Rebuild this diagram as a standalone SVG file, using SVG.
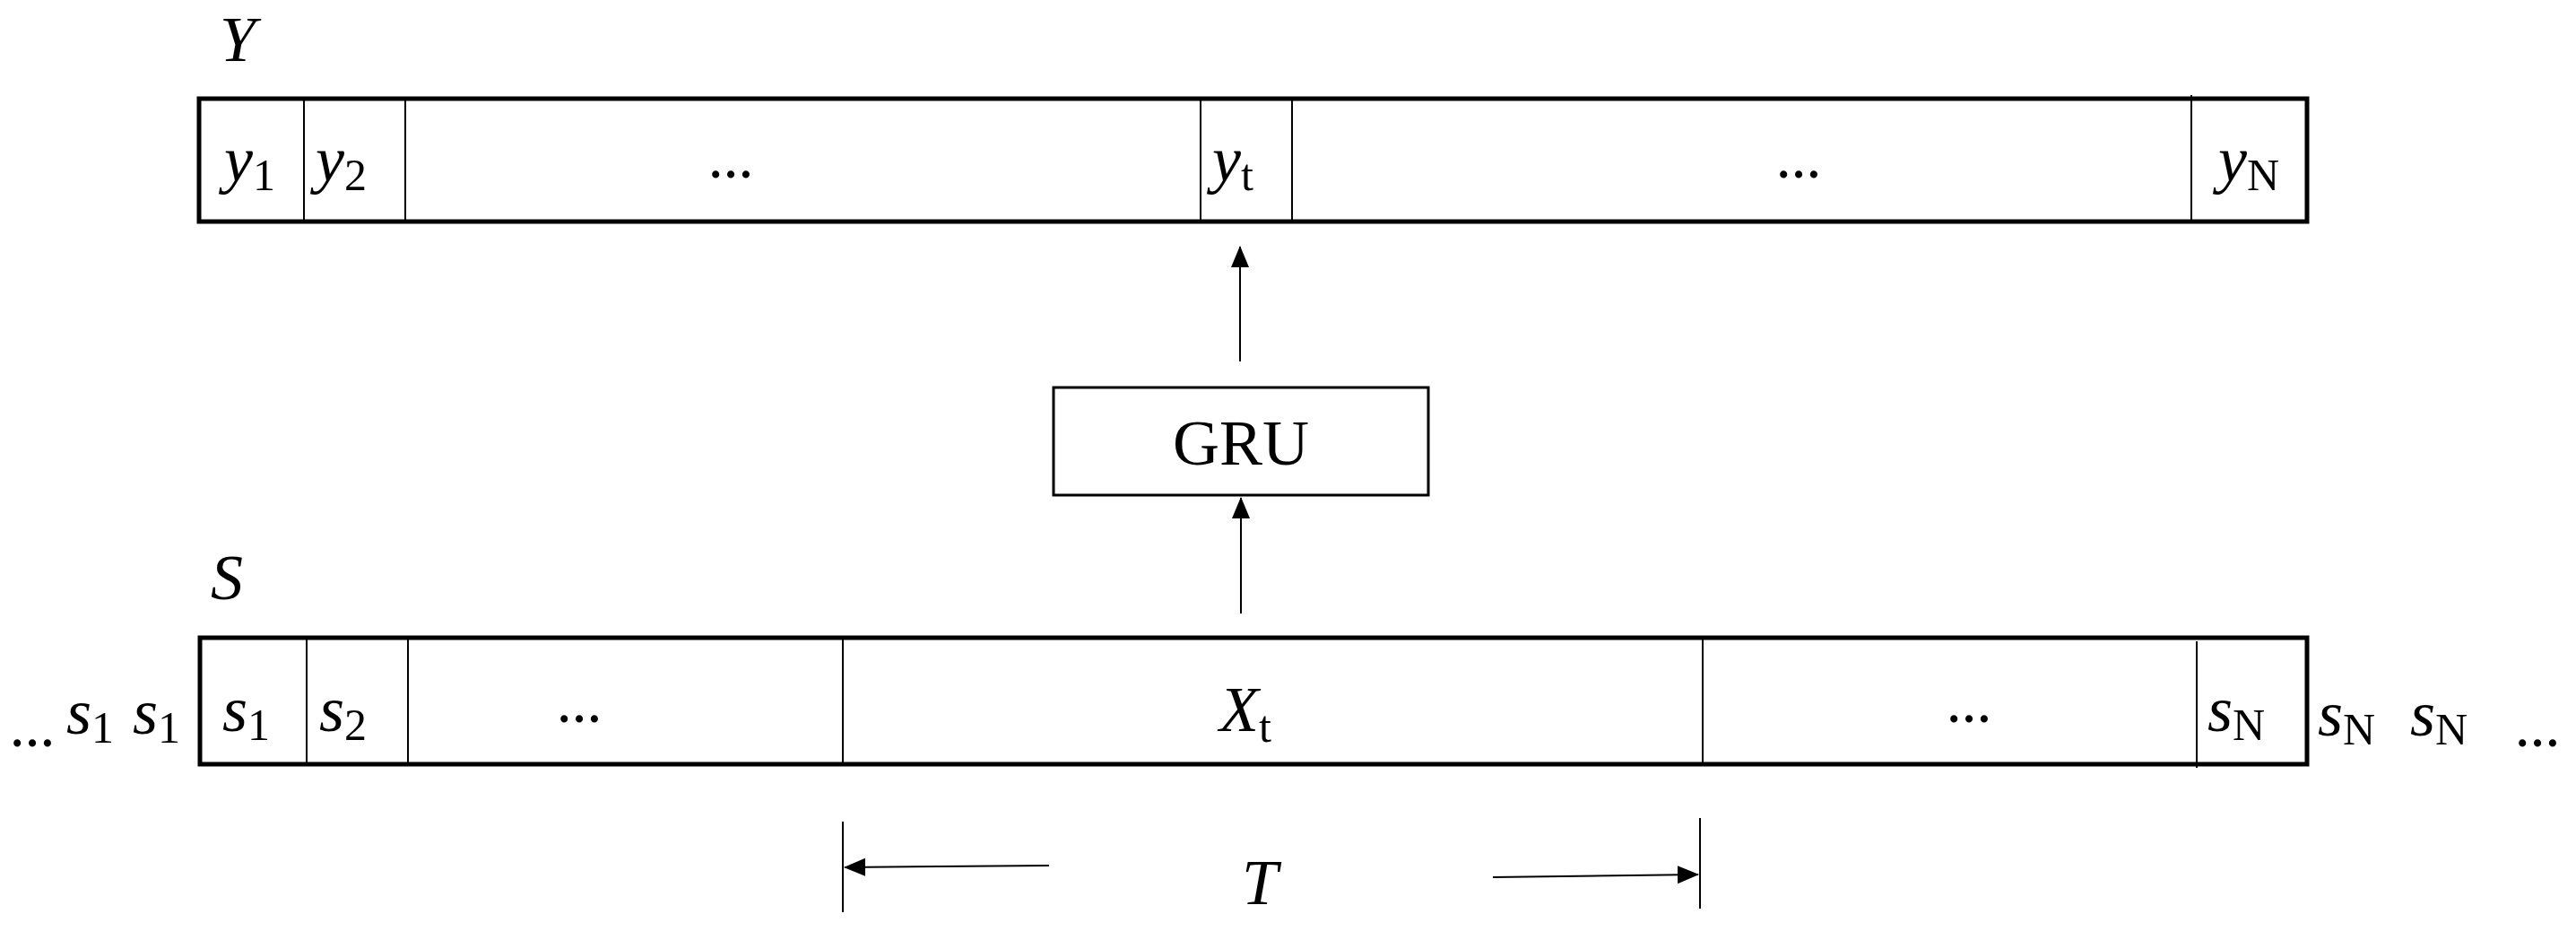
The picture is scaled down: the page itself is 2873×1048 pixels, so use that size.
<svg xmlns="http://www.w3.org/2000/svg" width="2873" height="1048" viewBox="0 0 2873 1048">
<style>
.box{fill:#fff;stroke:#000;stroke-width:5}
.div{stroke:#000;stroke-width:2}
.ln{stroke:#000;stroke-width:2;fill:none}
.m{font-family:"Liberation Serif",serif;font-style:italic;font-size:72px;fill:#000}
.sub{font-style:normal;font-size:50px}
.d{font-family:"Liberation Serif",serif;font-size:50px;font-weight:bold;fill:#000;text-anchor:middle}
.g{font-family:"Liberation Serif",serif;font-size:72px;fill:#000;text-anchor:middle}
</style>
<defs>
<marker id="ahb" viewBox="0 0 24 24" refX="23" refY="12" markerWidth="24" markerHeight="24" orient="auto" markerUnits="userSpaceOnUse"><path d="M0,2 L24,12 L0,22 z" fill="#000"/></marker>
</defs>
<g id="Y">
<text class="m" x="245" y="68">Y</text>
<rect class="box" x="222" y="110" width="2351" height="137"/>
<line class="div" x1="339" y1="110" x2="339" y2="247"/>
<line class="div" x1="452" y1="110" x2="452" y2="247"/>
<line class="div" x1="1339" y1="110" x2="1339" y2="247"/>
<line class="div" x1="1441" y1="110" x2="1441" y2="247"/>
<line class="div" x1="2444" y1="106" x2="2444" y2="247"/>
<text class="m" x="250" y="202">y<tspan class="sub" dy="10">1</tspan></text>
<text class="m" x="352" y="202">y<tspan class="sub" dy="10">2</tspan></text>
<text class="d" x="815" y="198">…</text>
<text class="m" x="1352" y="202">y<tspan class="sub" dy="10">t</tspan></text>
<text class="d" x="2006" y="198">…</text>
<text class="m" x="2474" y="202">y<tspan class="sub" dy="10">N</tspan></text>
</g>
<g id="GRU">
<rect x="1175" y="432" width="418" height="120" fill="#fff" stroke="#000" stroke-width="3"/>
<text class="g" x="1384" y="518">GRU</text>
</g>
<g id="S">
<text class="m" x="235" y="668">S</text>
<rect class="box" x="223" y="711" width="2350" height="141"/>
<line class="div" x1="342" y1="711" x2="342" y2="852"/>
<line class="div" x1="455" y1="711" x2="455" y2="852"/>
<line class="div" x1="940" y1="711" x2="940" y2="852"/>
<line class="div" x1="1899" y1="711" x2="1899" y2="852"/>
<line class="div" x1="2450" y1="715" x2="2450" y2="856"/>
<text class="m" x="248" y="815">s<tspan class="sub" dy="10">1</tspan></text>
<text class="m" x="356" y="815">s<tspan class="sub" dy="10">2</tspan></text>
<text class="d" x="646" y="805">…</text>
<text class="m" x="1360" y="815">X<tspan class="sub" dy="12">t</tspan></text>
<text class="d" x="2196" y="805">…</text>
<text class="m" x="2462" y="815">s<tspan class="sub" dy="10">N</tspan></text>
<text class="d" x="36" y="832">…</text>
<text class="m" x="74" y="818">s<tspan class="sub" dy="10">1</tspan></text>
<text class="m" x="148" y="818">s<tspan class="sub" dy="10">1</tspan></text>
<text class="m" x="2585" y="820">s<tspan class="sub" dy="10">N</tspan></text>
<text class="m" x="2688" y="820">s<tspan class="sub" dy="10">N</tspan></text>
<text class="d" x="2830" y="832">…</text>
</g>
<g id="T">
<line class="ln" x1="940" y1="916" x2="940" y2="1017"/>
<line class="ln" x1="1896" y1="912" x2="1896" y2="1013"/>
<text class="m" x="1385" y="1008">T</text>
</g>
<g id="connectors">
<line class="ln" x1="1383" y1="403" x2="1383" y2="275" marker-end="url(#ahb)"/>
<line class="ln" x1="1384" y1="684" x2="1384" y2="555" marker-end="url(#ahb)"/>
<line class="ln" x1="1170" y1="965" x2="942" y2="967" marker-end="url(#ahb)"/>
<line class="ln" x1="1665" y1="978" x2="1894" y2="975" marker-end="url(#ahb)"/>
</g>
</svg>
